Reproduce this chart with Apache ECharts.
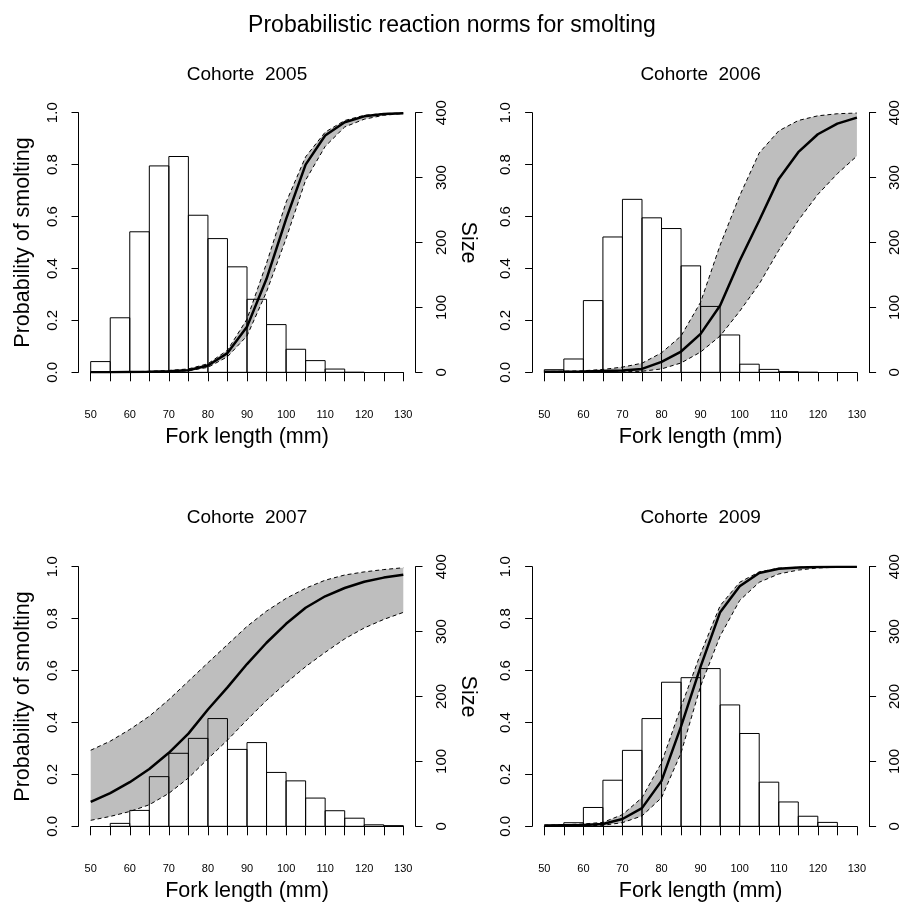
<!DOCTYPE html>
<html>
<head>
<meta charset="utf-8">
<script src="https://cdn.jsdelivr.net/npm/echarts@6/dist/echarts.min.js"></script>
<style>
html,body{margin:0;padding:0;background:#fff;}
#chart{width:904px;height:902px;}
</style>
</head>
<body>
<div id="chart"></div>
<script>
// ---------------- DATA ----------------
const mainTitle = 'Probabilistic reaction norms for smolting';
const cohortTitles = ['Cohorte  2005', 'Cohorte  2006', 'Cohorte  2007', 'Cohorte  2009'];
const xName = 'Fork length (mm)';
const yNameLeft = 'Probability of smolting';
const yNameRight = 'Size';

// fork lengths at which the reaction norm is evaluated
const forkLength = [50,55,60,65,70,75,80,85,90,95,100,105,110,115,120,125,130];

// Cohorte 2005
const prob2005  = [0.000,0.000,0.001,0.002,0.004,0.008,0.026,0.074,0.175,0.360,0.590,0.800,0.912,0.963,0.986,0.995,0.998];
const upper2005 = [0.001,0.001,0.002,0.004,0.007,0.013,0.033,0.085,0.205,0.420,0.655,0.830,0.925,0.970,0.990,0.997,0.999];
const lower2005 = [0.000,0.000,0.000,0.001,0.002,0.006,0.019,0.060,0.140,0.310,0.515,0.740,0.870,0.945,0.975,0.990,0.997];
const histStart2005 = 50;
const hist2005 = [16.5,84,216.5,318,332.5,242,206,162.5,112.5,73.5,35.5,18,5,0];

// Cohorte 2006
const prob2006  = [0.002,0.002,0.003,0.005,0.007,0.013,0.040,0.080,0.148,0.257,0.430,0.585,0.745,0.848,0.917,0.958,0.981];
const upper2006 = [0.003,0.004,0.006,0.011,0.020,0.035,0.075,0.140,0.270,0.490,0.680,0.845,0.930,0.970,0.988,0.996,0.999];
const lower2006 = [0.000,0.000,0.001,0.001,0.002,0.004,0.013,0.036,0.078,0.140,0.235,0.340,0.470,0.585,0.685,0.765,0.833];
const histStart2006 = 50;
const hist2006 = [4,20.5,110.5,208.5,266.5,238,221.5,164,101.5,57.5,12.5,4.5,1,0];

// Cohorte 2007
const prob2007  = [0.094,0.128,0.170,0.221,0.283,0.357,0.450,0.535,0.625,0.707,0.780,0.842,0.886,0.918,0.942,0.958,0.969];
const upper2007 = [0.293,0.328,0.373,0.424,0.488,0.559,0.630,0.700,0.770,0.829,0.878,0.917,0.948,0.968,0.980,0.989,0.996];
const lower2007 = [0.023,0.038,0.057,0.083,0.127,0.186,0.260,0.332,0.410,0.485,0.552,0.615,0.670,0.722,0.764,0.797,0.824];
const histStart2007 = 55;
const hist2007 = [4.5,24.5,76.5,112.5,135.5,166,118.5,129,83,70,43.5,24,12.5,2.3,1];

// Cohorte 2009
const prob2009  = [0.003,0.004,0.005,0.009,0.028,0.070,0.175,0.385,0.615,0.825,0.925,0.976,0.992,0.997,0.999,1.000,1.000];
const upper2009 = [0.004,0.006,0.009,0.015,0.045,0.110,0.245,0.460,0.665,0.850,0.940,0.980,0.994,0.998,1.000,1.000,1.000];
const lower2009 = [0.001,0.002,0.002,0.004,0.014,0.040,0.110,0.283,0.540,0.733,0.870,0.940,0.972,0.987,0.995,0.998,0.999];
const histStart2009 = 55;
const hist2009 = [5.5,29,71,117,166,222,229,243,187,143,68,37.5,15.5,6];

const binWidth = 5;

// tick labels
const xTickLabels = [50,60,70,80,90,100,110,120,130];
const probTickLabels = ['0.0','0.2','0.4','0.6','0.8','1.0'];
const sizeTickLabels = ['0','100','200','300','400'];

// ---------------- LAYOUT ----------------
const FONT = "'Liberation Sans', Arial, Helvetica, sans-serif";
const plotW = 312.6, plotH = 259.6;
const layouts = [
  {left: 90.7,  top: 112.7, titleY: 74.5, probName: true,  sizeName: true},
  {left: 544.3, top: 112.7, titleY: 74.5, probName: false, sizeName: false},
  {left: 90.7,  top: 566.7, titleY: 518,  probName: true,  sizeName: true},
  {left: 544.3, top: 566.7, titleY: 518,  probName: false, sizeName: false}
];
const panelData = [
  {prob: prob2005, upper: upper2005, lower: lower2005, start: histStart2005, counts: hist2005},
  {prob: prob2006, upper: upper2006, lower: lower2006, start: histStart2006, counts: hist2006},
  {prob: prob2007, upper: upper2007, lower: lower2007, start: histStart2007, counts: hist2007},
  {prob: prob2009, upper: upper2009, lower: lower2009, start: histStart2009, counts: hist2009}
];

const grid = [], xAxis = [], yAxis = [], series = [], graphic = [];

function axisCommon() {
  return {
    axisLine: {show: true, lineStyle: {color: '#000', width: 1}},
    splitLine: {show: false},
    axisTick: {show: true, inside: false, lineStyle: {color: '#000', width: 1}}
  };
}

function textEl(x, y, text, size, rotation) {
  return {
    type: 'text', x: x, y: y, rotation: rotation || 0, silent: true,
    style: {text: text, font: size + 'px ' + FONT, fill: '#000',
      textAlign: 'center', textVerticalAlign: 'middle', align: 'center', verticalAlign: 'middle'}
  };
}

graphic.push(textEl(452, 26, mainTitle, 23));

layouts.forEach((L, i) => {
  const D = panelData[i];
  grid.push({left: L.left, top: L.top, width: plotW, height: plotH, outerBoundsMode: 'none', containLabel: false});

  const xa = axisCommon();
  Object.assign(xa, {
    type: 'value', gridIndex: i, min: 50, max: 130, interval: 5, offset: 10,
    axisLabel: {
      show: true, fontSize: 11, color: '#000', fontFamily: FONT, margin: 27,
      showMinLabel: true, showMaxLabel: true,
      formatter: v => xTickLabels.indexOf(Math.round(v)) >= 0 ? String(Math.round(v)) : ''
    }
  });
  xa.axisTick.length = 9;
  xAxis.push(xa);

  const yl = axisCommon();
  Object.assign(yl, {
    type: 'value', gridIndex: i, position: 'left', min: 0, max: 1, interval: 0.2, offset: 12.2,
    axisLabel: {show: true, rotate: 90, fontSize: 15, color: '#000', fontFamily: FONT, margin: 18.5,
      showMinLabel: true, showMaxLabel: true,
      formatter: v => probTickLabels[Math.round(v / 0.2)]}
  });
  yl.axisTick.length = 7;
  yAxis.push(yl);

  const yr = axisCommon();
  Object.assign(yr, {
    type: 'value', gridIndex: i, position: 'right', min: 0, max: 400, interval: 100, offset: 12.2,
    axisLabel: {show: true, rotate: 90, fontSize: 15, color: '#000', fontFamily: FONT, margin: 18.5,
      showMinLabel: true, showMaxLabel: true,
      formatter: v => sizeTickLabels[Math.round(v / 100)]}
  });
  yr.axisTick.length = 7;
  yAxis.push(yr);

  // confidence band
  series.push({
    type: 'custom', xAxisIndex: i, yAxisIndex: 2 * i, z: 1, silent: true, clip: false,
    data: forkLength.map((x, k) => [x, D.lower[k], D.upper[k]]),
    renderItem: (params, api) => {
      if (params.dataIndex !== 0) return null;
      const pts = [];
      for (let k = 0; k < forkLength.length; k++) pts.push(api.coord([forkLength[k], D.upper[k]]));
      for (let k = forkLength.length - 1; k >= 0; k--) pts.push(api.coord([forkLength[k], D.lower[k]]));
      return {type: 'polygon', shape: {points: pts}, style: {fill: '#BEBEBE', stroke: null}};
    }
  });

  // histogram
  series.push({
    type: 'custom', xAxisIndex: i, yAxisIndex: 2 * i + 1, z: 2, silent: true, clip: false,
    data: D.counts.map((c, k) => [D.start + k * binWidth, D.start + (k + 1) * binWidth, c]),
    encode: {x: [0, 1], y: 2},
    renderItem: (params, api) => {
      const p0 = api.coord([api.value(0), api.value(2)]);
      const p1 = api.coord([api.value(1), 0]);
      return {type: 'rect',
        shape: {x: p0[0], y: p0[1], width: p1[0] - p0[0], height: p1[1] - p0[1]},
        style: {fill: 'none', stroke: '#000', lineWidth: 1}};
    }
  });

  const lineBase = {type: 'line', xAxisIndex: i, yAxisIndex: 2 * i, showSymbol: false, symbol: 'none',
    silent: true, z: 3, smooth: false};
  series.push(Object.assign({}, lineBase, {
    data: forkLength.map((x, k) => [x, D.upper[k]]),
    lineStyle: {color: '#000', width: 1, type: [4, 3]}
  }));
  series.push(Object.assign({}, lineBase, {
    data: forkLength.map((x, k) => [x, D.lower[k]]),
    lineStyle: {color: '#000', width: 1, type: [4, 3]}
  }));
  series.push(Object.assign({}, lineBase, {
    z: 4,
    data: forkLength.map((x, k) => [x, D.prob[k]]),
    lineStyle: {color: '#000', width: 2.5, type: 'solid'}
  }));

  const cx = L.left + plotW / 2;
  const cy = L.top + plotH / 2;
  graphic.push(textEl(cx, L.titleY, cohortTitles[i], 19));
  graphic.push(textEl(cx, L.top + plotH + 65, xName, 21.5));
  if (L.probName) graphic.push(textEl(L.left - 67.7, cy, yNameLeft, 21.5, Math.PI / 2));
  if (L.sizeName) graphic.push(textEl(L.left + plotW + 64.7, cy, yNameRight, 21.5, -Math.PI / 2));
});

const chart = echarts.init(document.getElementById('chart'), null, {renderer: 'canvas'});
chart.setOption({
  backgroundColor: '#ffffff',
  animation: false,
  textStyle: {fontFamily: FONT},
  grid, xAxis, yAxis, series, graphic
});
</script>
</body>
</html>
